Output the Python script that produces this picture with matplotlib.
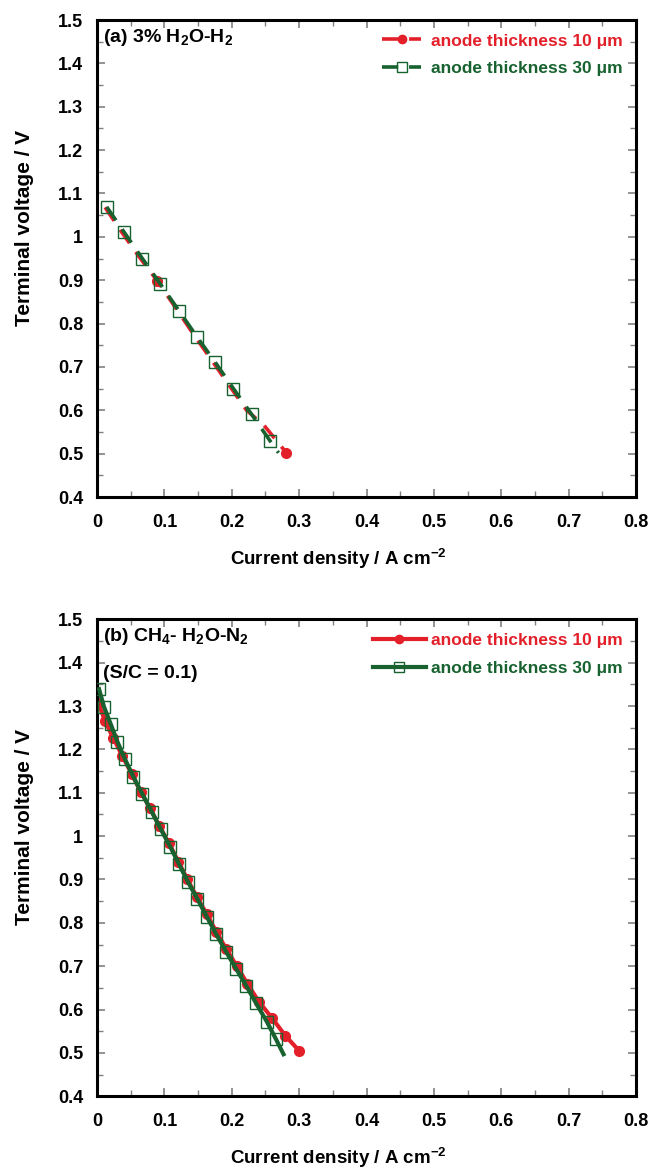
import numpy as np
import matplotlib
matplotlib.use('Agg')
import matplotlib.pyplot as plt
from matplotlib.lines import Line2D
from matplotlib.ticker import MultipleLocator, FormatStrFormatter

plt.rcParams['font.family'] = ['Liberation Sans', 'DejaVu Sans']
plt.rcParams['font.weight'] = 'bold'
plt.rcParams['mathtext.fontset'] = 'custom'
plt.rcParams['mathtext.bf'] = 'Liberation Sans:bold'
plt.rcParams['mathtext.rm'] = 'Liberation Sans:bold'
plt.rcParams['mathtext.default'] = 'bf'

RED = '#e3202a'
GREEN = '#17622f'

# (a) 3% H2O-H2
a_x10 = [0.012, 0.037, 0.063, 0.0896, 0.116, 0.142, 0.169, 0.196, 0.222, 0.248, 0.281]
a_v10 = [1.068, 1.010, 0.953, 0.898, 0.838, 0.778, 0.718, 0.658, 0.600, 0.565, 0.502]
a_mark10 = [3, 10]
a_x30 = [0.0144, 0.0406, 0.0673, 0.0941, 0.1214, 0.1481, 0.1753, 0.2025, 0.2293, 0.2566, 0.2694]
a_v30 = [1.069, 1.010, 0.950, 0.891, 0.830, 0.770, 0.711, 0.650, 0.591, 0.530, 0.502]

# (b) CH4-H2O-N2, S/C = 0.1
b_x10 = [0.002, 0.0119, 0.0242, 0.0376, 0.0516, 0.0649, 0.0788, 0.0926, 0.107, 0.1208,
         0.1342, 0.1481, 0.163, 0.1768, 0.1917, 0.2076, 0.2233, 0.2403, 0.260, 0.2793, 0.300]
b_v10 = [1.308, 1.265, 1.226, 1.185, 1.143, 1.102, 1.064, 1.023, 0.983, 0.941,
         0.900, 0.860, 0.820, 0.780, 0.740, 0.700, 0.659, 0.618, 0.580, 0.540, 0.505]
b_x30 = [0.003, 0.0104, 0.0204, 0.0302, 0.0416, 0.0539, 0.0673, 0.0813, 0.0947, 0.1085,
         0.1218, 0.1347, 0.149, 0.163, 0.1768, 0.1917, 0.2065, 0.2214, 0.2363, 0.2521, 0.2655]
b_v30 = [1.339, 1.298, 1.258, 1.218, 1.177, 1.137, 1.097, 1.056, 1.016, 0.976,
         0.935, 0.895, 0.855, 0.814, 0.774, 0.733, 0.694, 0.655, 0.614, 0.572, 0.532]
b_xend30 = 0.2768
b_vend30 = 0.497

labels = ['anode thickness 10 \u03bcm', 'anode thickness 30 \u03bcm']

fig = plt.figure(figsize=(6.52, 11.7), dpi=100)
ax1 = fig.add_axes([0.1488, 0.5752, 0.8267, 0.4077])
ax2 = fig.add_axes([0.1488, 0.0630, 0.8267, 0.4077])

dash = (0, (4.5, 3))

def style(ax, xlab_y):
    ax.set_xlim(0, 0.8)
    ax.set_ylim(0.4, 1.5)
    ax.xaxis.set_major_locator(MultipleLocator(0.1))
    ax.xaxis.set_minor_locator(MultipleLocator(0.05))
    ax.yaxis.set_major_locator(MultipleLocator(0.1))
    ax.yaxis.set_minor_locator(MultipleLocator(0.05))
    ax.xaxis.set_major_formatter(FormatStrFormatter('%g'))
    ax.yaxis.set_major_formatter(FormatStrFormatter('%g'))
    ax.tick_params(which='both', direction='in', top=True, right=True, color='#808080',
                   labelsize=13)
    ax.tick_params(axis='x', which='major', pad=12)
    ax.tick_params(axis='y', which='major', pad=10)
    ax.tick_params(which='major', length=6, width=1.2)
    ax.tick_params(which='minor', length=4, width=1.0)
    for lab in ax.get_xticklabels() + ax.get_yticklabels():
        lab.set_fontweight('bold')
    for s in ax.spines.values():
        s.set_linewidth(2.2)
    ax.set_xlabel('Current density / A cm$^{-2}$', fontsize=13.5, fontweight='bold')
    ax.set_ylabel('Terminal voltage / V', fontsize=15, fontweight='bold')
    ax.xaxis.set_label_coords(0.447, xlab_y)
    ax.yaxis.set_label_coords(-0.117, 0.564)

# panel (a)
ax1.plot(a_x10, a_v10, color=RED, lw=2.6, ls=dash, zorder=2)
ax1.plot(np.array(a_x10)[a_mark10], np.array(a_v10)[a_mark10], 'o', color=RED, ms=7, zorder=3)
ax1.plot(a_x30, a_v30, color=GREEN, lw=2.6, ls=dash, zorder=4)
ax1.plot(a_x30[:-1], a_v30[:-1], 's', mfc='none', mec=GREEN, mew=1.0, ms=8, zorder=5)
h1 = [Line2D([], [], color=RED, lw=2.6, ls=dash, marker='o', ms=6),
      Line2D([], [], color=GREEN, lw=2.6, ls=dash, marker='s', mfc='none', mec=GREEN, ms=7)]
leg = ax1.legend(h1, labels, loc='upper right', frameon=False, fontsize=12.5,
                 handlelength=2.25, handletextpad=0.55, borderaxespad=0.37, labelspacing=0.73)
for t, c in zip(leg.get_texts(), [RED, GREEN]):
    t.set_color(c)
    t.set_fontweight('bold')
ax1.text(0.012, 0.985, '(a) 3% H$_2$O-H$_2$', transform=ax1.transAxes, ha='left', va='top',
         fontsize=14, fontweight='bold')
style(ax1, -0.104)

# panel (b)
ax2.plot(b_x10, b_v10, color=RED, lw=3, marker='o', ms=7, zorder=2)
ax2.plot(b_x30 + [b_xend30], b_v30 + [b_vend30], color=GREEN, lw=3, zorder=3)
ax2.plot(b_x30, b_v30, 's', mfc='none', mec=GREEN, mew=1.0, ms=8, zorder=4)
h2 = [Line2D([], [], color=RED, lw=3, marker='o', ms=6),
      Line2D([], [], color=GREEN, lw=3, marker='s', mfc='none', mec=GREEN, ms=7)]
leg2 = ax2.legend(h2, labels, loc='upper right', frameon=False, fontsize=12.5,
                  handlelength=3.05, handletextpad=0.3, borderaxespad=0.37, labelspacing=0.73)
for t, c in zip(leg2.get_texts(), [RED, GREEN]):
    t.set_color(c)
    t.set_fontweight('bold')
ax2.text(0.012, 0.985, '(b) CH$_4$- H$_2$O-N$_2$', transform=ax2.transAxes, ha='left', va='top',
         fontsize=14, fontweight='bold')
ax2.text(0.012, 0.905, '(S/C = 0.1)', transform=ax2.transAxes, ha='left', va='top',
         fontsize=14, fontweight='bold')
style(ax2, -0.104)

fig.savefig('out.png', dpi=100)
